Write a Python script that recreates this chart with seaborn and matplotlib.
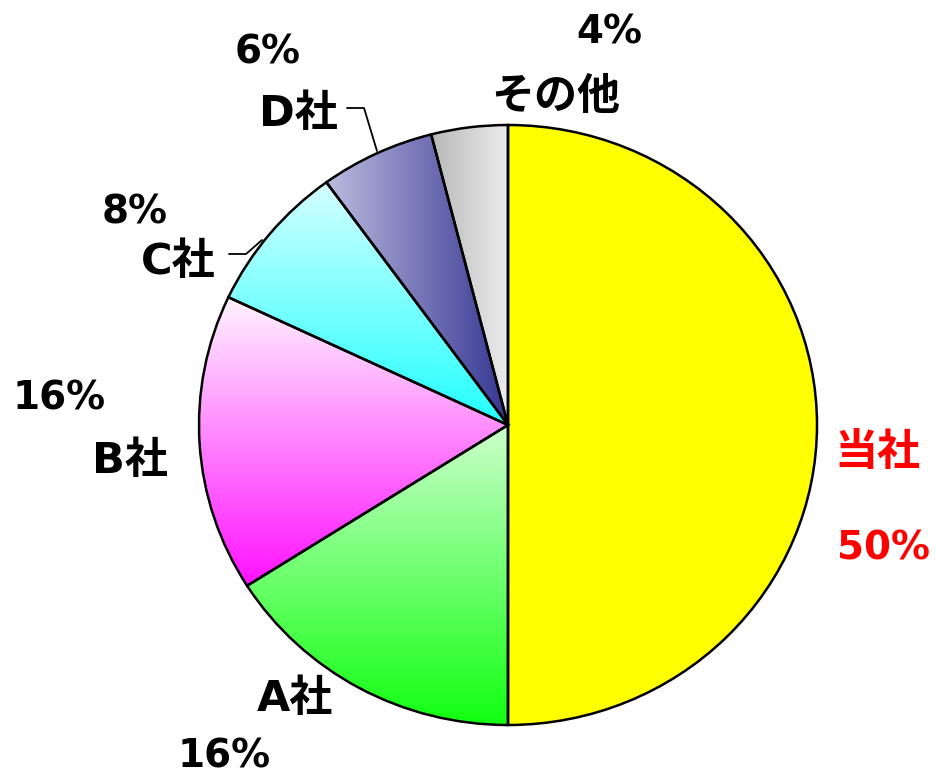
import numpy as np
import matplotlib
matplotlib.use("Agg")
import matplotlib.pyplot as plt
import seaborn as sns
from matplotlib.lines import Line2D

# Market share data
companies = ["当社", "A社", "B社", "C社", "D社", "その他"]
shares = [50, 16, 16, 8, 6, 4]
share_labels = ["50%", "16%", "16%", "8%", "6%", "4%"]

# Fill styles: solid colour or a two-stop gradient (direction, start, end)
fills = [
    ("solid", "#ffff00", None),
    ("vertical", "#ccffcc", "#11ff11"),
    ("vertical", "#fff4ff", "#ff11ff"),
    ("vertical", "#d4ffff", "#22ffff"),
    ("horizontal", "#bcbcdf", "#363693"),
    ("horizontal", "#b8b8b8", "#ececec"),
]

# Label anchor positions (pixels): name, percentage
name_pos = [(877, 453), (295, 699), (130, 461), (178, 262), (298, 114), (556, 97)]
pct_pos = [(884, 548), (224, 756), (59, 398), (135, 212), (268, 52), (609, 32)]
label_colors = ["#ff0000", "black", "black", "black", "black", "black"]

sns.set_theme(style="white")
plt.rcParams["font.family"] = ["DejaVu Sans", "Noto Sans CJK JP"]

W, H = 937, 774
fig = plt.figure(figsize=(W / 100, H / 100), dpi=100)
fig.patch.set_facecolor("white")

# Pie bounding box in pixels
left_px, right_px, top_px, bottom_px = 199, 817, 125, 725
ax = fig.add_axes([left_px / W, 1 - bottom_px / H,
                   (right_px - left_px) / W, (bottom_px - top_px) / H])

wedges, _ = ax.pie(shares, startangle=90, counterclock=False, radius=1.0,
                   center=(0, 0), frame=False,
                   wedgeprops=dict(edgecolor="black", linewidth=1.8))
ax.set_aspect("auto")
ax.axis("off")


def wedge_bbox(w):
    t = np.radians(np.linspace(w.theta1, w.theta2, 200))
    xs = np.concatenate([[w.center[0]], w.center[0] + w.r * np.cos(t)])
    ys = np.concatenate([[w.center[1]], w.center[1] + w.r * np.sin(t)])
    return xs.min(), xs.max(), ys.min(), ys.max()


for w, (kind, c1, c2) in zip(wedges, fills):
    w.set_zorder(2)
    if kind == "solid":
        w.set_facecolor(c1)
        continue
    w.set_facecolor("none")
    cmap = sns.blend_palette([c1, c2], as_cmap=True)
    ramp = np.linspace(0, 1, 256)
    img = ramp.reshape(-1, 1) if kind == "vertical" else ramp.reshape(1, -1)
    x0, x1, y0, y1 = wedge_bbox(w)
    im = ax.imshow(img, cmap=cmap, extent=(x0, x1, y0, y1), origin="upper",
                   aspect="auto", interpolation="bilinear", zorder=1)
    im.set_clip_path(w)

ax.set_xlim(-1, 1)
ax.set_ylim(-1, 1)


def fx(px):
    return px / W


def fy(py):
    return 1 - py / H


name_fs = 31
pct_fs = 28
for name, pct, npos, ppos, col in zip(companies, share_labels, name_pos, pct_pos, label_colors):
    fig.text(fx(npos[0]), fy(npos[1]), name, ha="center", va="center",
             fontsize=name_fs, fontweight="bold", color=col)
    fig.text(fx(ppos[0]), fy(ppos[1]), pct, ha="center", va="center",
             fontsize=pct_fs, fontweight="bold", color=col)

# Leader lines for the small slices
leaders = [
    [(347, 108), (364, 108), (377, 151)],
    [(229, 254), (246, 254), (262, 240)],
]
for pts in leaders:
    xs = [fx(p[0]) for p in pts]
    ys = [fy(p[1]) for p in pts]
    fig.add_artist(Line2D(xs, ys, color="black", lw=1.3, transform=fig.transFigure))

fig.savefig("out.png", dpi=100, facecolor="white")
